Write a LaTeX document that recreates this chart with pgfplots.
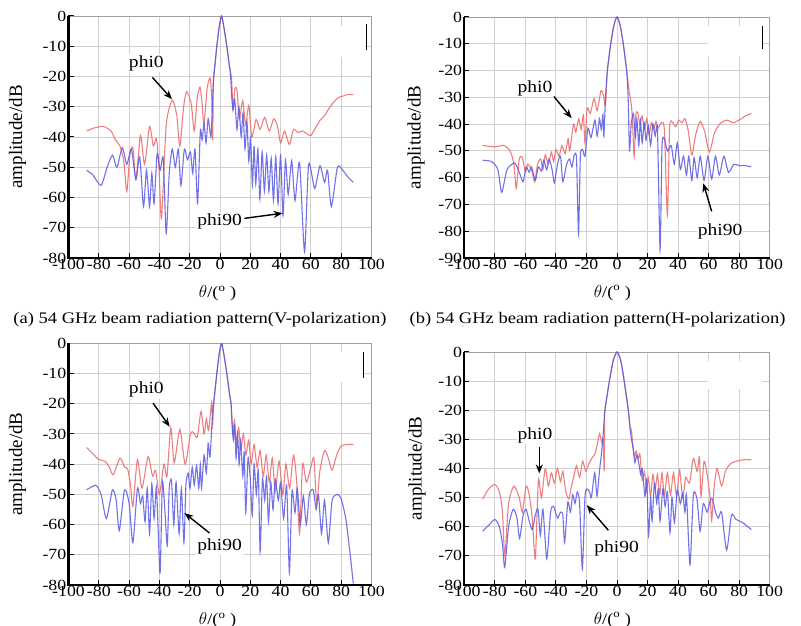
\documentclass[border=0pt]{standalone}
\usepackage{fontspec}
\setmainfont{Liberation Serif}[FakeStretch=1.15]
\newfontfamily\ylfont{Liberation Serif}
\usepackage{pgfplots}
\pgfplotsset{compat=1.18}
\usetikzlibrary{arrows.meta}

\definecolor{cRed}{RGB}{236,105,105}
\definecolor{cBlue}{RGB}{88,88,228}
\definecolor{cGrid}{RGB}{208,208,208}

\tikzset{
  lab/.style={fill=white, inner sep=1pt, font=\fontsize{17}{18}\selectfont},
  arr/.style={-{Stealth[length=9pt,width=7pt]}, line width=1.4pt},
}
\pgfplotsset{
  pat/.style={
    scale only axis, anchor=south west,
    xmin=-100, xmax=100, xtick={-100,-80,...,100},
    ymax=0, ytick distance=10,
    grid=major, major grid style={cGrid, line width=0.9pt},
    axis line style={gray!75, line width=0.8pt},
    tick align=inside, xtick pos=bottom, ytick pos=left,
    major tick length=5pt, tick style={black, line width=1pt},
    ticklabel style={font=\fontsize{15.5}{16}\selectfont},
    /pgf/number format/assume math mode=true,
    xticklabel style={inner sep=1pt},
    yticklabel style={inner sep=2pt},
    ylabel={amplitude/dB},
    ylabel style={font=\ylfont\fontsize{19}{20}\selectfont, anchor=center},
    xlabel={$\theta$/(\textsuperscript{o} )},
    xlabel style={font=\fontsize{16}{17}\selectfont, anchor=center},
    clip mode=individual,
    every axis plot/.append style={line width=1.1pt, smooth, tension=0.4, opacity=0.85},
  },
}

\begin{document}
\begin{tikzpicture}
\path[use as bounding box] (0,0) rectangle (801pt,626pt);

% (a)
\begin{axis}[pat, at={(68.5pt,368pt)}, width=303pt, height=242pt, ymin=-80,
  ylabel style={at={(axis description cs:-0.168,0.5)}},
  xlabel style={at={(axis description cs:0.492,-0.145)}}]
\addplot[cRed] coordinates {(-88,-38) (-83,-37) (-77,-36.5) (-72,-38) (-69,-41) (-66,-43) (-63.5,-48) (-61.5,-58) (-59.5,-46) (-57.5,-43.5) (-55.5,-54) (-52.5,-39.5) (-49.8,-49) (-46.5,-36.5) (-44,-43) (-42,-40.5) (-40.3,-50) (-38.6,-67) (-35.5,-36) (-31.5,-27.8) (-28.5,-33) (-26.5,-43) (-24,-30) (-22,-25) (-19,-29) (-17,-38) (-15,-27) (-13.2,-23.5) (-11.8,-29) (-10.6,-36) (-8.5,-24) (-6.5,-20.5) (-5.4,-28) (-4.8,-41) (-4.4,-22) (-3.5,-17) (-2.1,-10) (-0.5,-3.5) (1,0) (2.5,-3.5) (4.5,-10) (6.2,-16.5) (7.6,-20.5) (8.6,-31) (9.8,-24) (11.2,-24.5) (12.8,-34) (15,-28) (17,-36) (19,-29.5) (21,-40) (23.8,-34.2) (26.5,-37.5) (29.5,-33.5) (32.5,-38) (35.5,-34) (38,-36.5) (40,-42) (42.6,-38) (45.8,-42.5) (48.5,-37.5) (51.5,-38.5) (54.5,-38) (57.5,-39) (60,-39.5) (63,-37) (66,-34.5) (69,-33) (72,-30.5) (75,-28.5) (78,-27) (81,-26.5) (84,-26) (88,-26)};
\addplot[cBlue] coordinates {(-88,-51) (-84,-52.5) (-78.5,-56) (-74.5,-50) (-71,-46) (-68,-50) (-64.5,-43.5) (-61.5,-49) (-58.5,-44) (-55.5,-54) (-53,-46.5) (-50.5,-63) (-48.5,-51) (-46.5,-63) (-45,-52) (-43.5,-62) (-41.5,-45.5) (-39.5,-51) (-37.5,-47) (-35.5,-72) (-33.5,-52) (-31.5,-44) (-29.5,-50) (-27.5,-44) (-25.8,-56) (-23.5,-44) (-21.5,-47.5) (-19.5,-45) (-18,-52) (-16.5,-44) (-14.8,-62) (-13,-38) (-11.8,-41) (-10.5,-35.5) (-9.2,-42) (-7.8,-34) (-6,-40) (-5,-30) (-4.4,-22) (-3.5,-17) (-2.1,-10) (-0.5,-3.5) (1,0) (2.5,-3.5) (4.5,-10) (6.2,-16.5) (7,-20) (7.8,-27) (8.6,-31) (9.7,-27.5) (11.2,-37.5) (12.5,-30) (14,-40) (15.2,-32) (16.5,-44) (17.8,-35) (19,-48) (20.2,-40) (21.4,-56) (22.5,-43) (23.6,-55.5) (25,-44) (26.3,-60.5) (27.8,-45) (29.3,-58) (30.8,-46) (32.3,-58) (33.8,-47) (35.3,-61) (36.8,-46.5) (38.3,-62) (40,-46) (41.6,-66) (43.2,-47.5) (45,-59) (47.3,-47.8) (49.5,-61) (52.5,-48.4) (55.8,-78) (58.5,-49) (62.5,-57) (66,-49.5) (69,-55) (71,-51) (73.5,-63) (77.5,-50) (81,-51) (84,-53) (88,-55)};
\fill[white] (axis cs:60.9,-3.2) rectangle (axis cs:95.7,-13.7);
\draw[line width=1pt] (axis cs:96.4,-2.6) -- (axis cs:96.4,-11.2);
\node[lab] at (axis cs:-48.6,-15.6) {phi0};
\draw[arr] (axis cs:-44.6,-20.3) -- (axis cs:-31.7,-27.5);
\node[lab] at (axis cs:-0.3,-68) {phi90};
\draw[arr] (axis cs:16.1,-66.9) -- (axis cs:41.3,-65.2);
\draw[line width=2.2pt] (rel axis cs:0,1) -- (rel axis cs:0,0) -- (rel axis cs:1,0);
\end{axis}

% (b)
\begin{axis}[pat, at={(464.3pt,368pt)}, width=305.4pt, height=241pt, ymin=-90,
  ylabel style={at={(axis description cs:-0.158,0.5)}},
  xlabel style={at={(axis description cs:0.485,-0.145)}}]
\addplot[cRed] coordinates {(-88,-48) (-80,-48.5) (-74,-48) (-70,-50) (-67.5,-55) (-66,-64) (-64,-53) (-62,-52.5) (-60,-58) (-58.5,-55) (-56,-57) (-54,-61.5) (-52,-55) (-50,-53) (-48.5,-57) (-47,-51.5) (-45,-55) (-43,-50.5) (-41.5,-54) (-40,-49.5) (-38,-52) (-36,-48) (-34,-51) (-32,-45.5) (-31,-50) (-28.5,-40) (-27,-43) (-25,-38) (-23.5,-42) (-22,-36.5) (-21,-47) (-19.5,-34) (-17.5,-36) (-15,-30.5) (-13,-35) (-10.5,-27.5) (-8.8,-29.5) (-7.8,-33) (-7.2,-30) (-6.3,-20) (-4.1,-10) (-2,-3) (0,0) (2,-3) (4.1,-10) (6.3,-20) (8,-28) (9,-31) (10,-37) (11.2,-52) (12.3,-37) (13.5,-35.5) (15,-40) (16.5,-37) (18,-42) (19.5,-38) (21,-44) (22.5,-39.5) (24,-42) (25.5,-39) (27,-41.5) (29,-39.5) (31,-42) (33,-74) (34.5,-41) (36.5,-39.5) (38.5,-41) (40.5,-38.5) (42.5,-39.5) (44.5,-38) (46.5,-42) (49,-51.5) (51.5,-44) (54.5,-39) (57.5,-43) (60.5,-50.5) (64,-43) (68,-39.5) (72,-38.5) (76,-39.5) (80,-38.5) (84,-37) (88,-36)};
\addplot[cBlue] coordinates {(-88,-53.5) (-82,-54) (-78,-57) (-75.5,-65.5) (-72,-57) (-67,-54.5) (-64,-58) (-61.5,-61.5) (-59.5,-56) (-57.5,-58) (-56,-56) (-53.5,-61) (-51.5,-56) (-49.5,-57.5) (-48,-53.5) (-46,-57) (-44.5,-53) (-42.5,-57) (-41,-62) (-39,-55) (-37,-52) (-35.5,-61.5) (-33,-55) (-31,-53) (-29.5,-56) (-28,-51.5) (-26.5,-53) (-25.2,-81) (-24,-52) (-22.5,-49.5) (-21,-52) (-19,-41.5) (-17,-45) (-14.5,-38.5) (-13,-44.5) (-11.5,-38) (-10.3,-42) (-9.2,-36.5) (-8.6,-44.5) (-7.5,-30) (-6.3,-20) (-4.1,-10) (-2,-3) (0,0) (2,-3) (4.1,-10) (6.3,-20) (7.3,-30) (8.2,-50) (9.3,-40) (10.8,-36) (12,-45) (13,-38) (14.3,-48) (15.3,-38.5) (16.5,-47) (17.8,-39.5) (19,-46) (20.5,-40.5) (22,-48) (23.5,-40) (25,-44.5) (26.5,-42) (28.2,-87) (29.5,-48) (31,-45.5) (33,-50) (35.5,-48) (37.5,-55) (39.5,-47) (41.5,-57) (43.5,-52) (45.5,-59) (47,-52) (49,-61) (50.5,-52.5) (52.5,-60) (54.5,-52) (57,-61) (59.5,-52) (62,-60.5) (64.5,-52) (67,-59) (70,-52) (73,-58) (76.5,-55) (80,-55.5) (84,-55.5) (88,-56)};
\fill[white] (axis cs:59.8,-3.2) rectangle (axis cs:94.8,-14.4);
\draw[line width=1pt] (axis cs:95.2,-3.2) -- (axis cs:95.2,-11.9);
\node[lab] at (axis cs:-53.7,-26.6) {phi0};
\draw[arr] (axis cs:-41.3,-29.7) -- (axis cs:-29.7,-37.8);
\node[lab] at (axis cs:67.5,-80.1) {phi90};
\draw[arr] (axis cs:62,-72.6) -- (axis cs:56.5,-62.1);
\draw[line width=2.2pt] (rel axis cs:0,1) -- (rel axis cs:0,0) -- (rel axis cs:1,0);
\end{axis}

% (c)
\begin{axis}[pat, at={(68.5pt,41pt)}, width=303pt, height=241.7pt, ymin=-80,
  ylabel style={at={(axis description cs:-0.168,0.5)}},
  xlabel style={at={(axis description cs:0.492,-0.145)}}]
\addplot[cRed] coordinates {(-88,-34.5) (-84,-36.5) (-80,-38.5) (-76,-39) (-73,-41) (-70.5,-43.5) (-66,-38) (-63,-41) (-61,-41.5) (-59,-47) (-57.5,-54) (-54.5,-38.5) (-51.5,-48) (-47.5,-37.5) (-44.5,-44) (-42.5,-42) (-40,-50) (-37,-40) (-35,-44) (-32.5,-28) (-30.2,-39.5) (-26.5,-28.5) (-23,-40) (-19.5,-30) (-17.5,-29.5) (-15,-31) (-12.5,-22.5) (-10.5,-30) (-9,-25) (-7.5,-29) (-5.5,-19.5) (-4.8,-27) (-4.2,-20) (-2.1,-10) (-0.5,-3.5) (1,0) (2.5,-3.5) (4.5,-10) (6.2,-16.5) (7.3,-20) (8.5,-30) (9.5,-25.5) (10.8,-33) (12.3,-28) (13.7,-35) (15.5,-30) (17,-37) (19,-32) (20.5,-40) (22.5,-33.5) (24.5,-41) (26.5,-35.5) (28.5,-44) (30.5,-37) (32.5,-46) (34.5,-38) (36.5,-49) (39,-39) (41.5,-50) (43.5,-40) (46,-48) (48.5,-37) (50.5,-45) (52.5,-63) (54.5,-40) (57,-46) (60,-41) (62,-38) (63.8,-53) (66,-42) (69,-35.5) (71.5,-38) (74,-42) (77,-37) (80,-34) (84,-33.5) (88,-33.5)};
\addplot[cBlue] coordinates {(-88,-48.5) (-82,-47) (-78.5,-50) (-75,-58) (-71,-48.5) (-68.5,-52) (-66.5,-62) (-63,-48.5) (-60,-53) (-57.5,-66) (-54.5,-48) (-52.5,-53) (-51,-50.5) (-49.5,-59) (-48,-48) (-46.5,-63) (-45,-46.5) (-43.5,-58) (-42,-47.5) (-40.8,-62) (-39.5,-76) (-38,-46) (-36.3,-56) (-34.8,-67) (-33.5,-48) (-32,-45.5) (-30.5,-60) (-29,-46) (-27,-63) (-25.5,-48) (-23.8,-66) (-22.5,-47) (-21,-43) (-19.8,-48) (-18.3,-41) (-17,-47) (-15.5,-40.5) (-14,-48) (-13,-40) (-12.2,-48) (-10.5,-37) (-9,-43) (-7.8,-33) (-6.6,-37.5) (-5,-24) (-4.2,-20) (-2.1,-10) (-0.5,-3.5) (1,0) (2.5,-3.5) (4.5,-10) (6.2,-16.5) (7.3,-20) (8,-27) (8.8,-32) (9.7,-27) (10.6,-38) (11.6,-30) (12.6,-40) (13.6,-32) (15,-44) (16,-36) (17,-56) (18.5,-38) (20,-45) (21.3,-57) (22.5,-40) (24,-50) (25.3,-42) (26.5,-69) (28,-45) (29.5,-52) (30.7,-44) (32,-59) (33.5,-46) (35,-55) (36.5,-45) (38.5,-52) (40,-46) (42,-58) (44,-47) (45.8,-76) (47.5,-49) (49.5,-56) (51,-48) (53,-60) (55,-50.5) (57,-60) (59,-50) (61.5,-48.5) (63.5,-55) (65,-50) (67,-63) (69,-52) (71.5,-66) (74,-52) (77.5,-50) (80,-51.5) (83,-58) (85.5,-68) (88,-79.5)};
\fill[white] (axis cs:60,-2.8) rectangle (axis cs:94,-12.7);
\draw[line width=1pt] (axis cs:95,-2.8) -- (axis cs:95,-11.5);
\node[lab] at (axis cs:-48.6,-15.4) {phi0};
\draw[arr] (axis cs:-44.2,-19.8) -- (axis cs:-33.2,-27.6);
\node[lab] at (axis cs:-0.3,-67.2) {phi90};
\draw[arr] (axis cs:-6.9,-62.8) -- (axis cs:-23.4,-56.2);
\draw[line width=2.2pt] (rel axis cs:0,1) -- (rel axis cs:0,0) -- (rel axis cs:1,0);
\end{axis}

% (d)
\begin{axis}[pat, at={(464.3pt,41pt)}, width=305.4pt, height=233pt, ymin=-80,
  ylabel style={at={(axis description cs:-0.155,0.5)}},
  xlabel style={at={(axis description cs:0.485,-0.150)}}]
\addplot[cRed] coordinates {(-88,-50.5) (-84,-47) (-80,-45.5) (-77,-48) (-75,-55) (-73.5,-70) (-71,-52) (-67.5,-46) (-64,-50) (-62,-55) (-59.5,-46) (-57.5,-49) (-55.5,-57) (-53.5,-71) (-51.5,-44) (-49.5,-50) (-47,-40) (-45,-46) (-43,-41.5) (-41,-45) (-39,-40) (-37,-44.5) (-35.5,-41) (-33.5,-48) (-31.5,-50.5) (-30,-46.5) (-28,-42) (-26.5,-39) (-24.5,-43) (-22.5,-37.5) (-20.5,-41) (-18.5,-38.5) (-16.5,-36.5) (-14.5,-35) (-13,-32) (-11.4,-28) (-10,-31) (-9,-30) (-8.4,-41) (-8.1,-22) (-7.9,-20) (-5,-10) (-2.5,-3) (0,0) (2.5,-3) (4.7,-10) (7.4,-20) (8.5,-25.5) (9.5,-27) (10.5,-33) (11.5,-36) (12.5,-34) (14,-36.5) (15,-35) (16.5,-44) (18,-41) (19.3,-47.5) (20.5,-43) (22,-49.5) (23.5,-42) (25,-47) (26.5,-42) (28,-49) (29.5,-41.5) (31,-49.5) (33,-41.5) (35,-49) (37,-41.5) (39,-49.5) (41,-40.5) (43,-50) (45,-43) (47.5,-45) (50,-36.5) (52.5,-41) (54,-36) (55,-49.5) (57,-37.5) (59,-42) (61,-50) (62,-58) (63.5,-47) (65.5,-40) (68.5,-46) (71,-41) (74,-38.5) (78,-37.5) (83,-37) (88,-37)};
\addplot[cBlue] coordinates {(-88,-61.5) (-84,-59.5) (-80,-57.5) (-77,-60) (-75,-66) (-73.5,-74) (-71,-60) (-68,-54) (-65.5,-57) (-63.8,-64) (-61.5,-56) (-59.5,-54) (-57.5,-58) (-55.5,-61) (-53.5,-56) (-51.7,-54) (-50.2,-63) (-48.5,-54) (-46,-71) (-43.5,-55) (-41.5,-53) (-39,-57) (-37,-55) (-35.5,-56) (-34.3,-65.5) (-32.2,-51.5) (-30.5,-55) (-29,-49) (-27.5,-52) (-26,-48) (-24.5,-52) (-22.7,-74.5) (-21,-50) (-19.7,-47) (-18,-48) (-16.8,-50) (-14.6,-41.5) (-13.1,-49.5) (-11.5,-41) (-10,-34) (-9,-28) (-7.9,-20) (-5,-10) (-2.5,-3) (0,0) (2.5,-3) (4.7,-10) (7.4,-20) (8.5,-26) (9.5,-30) (10.7,-33.5) (11.7,-38) (12.9,-35.5) (14.2,-38) (15.5,-42) (16.5,-40) (18.3,-49.5) (19.5,-44) (20.7,-63) (22,-50) (23,-58) (24.5,-45) (26,-52) (27,-47) (28.2,-58) (30,-47) (31.5,-53) (33,-48) (34.7,-62) (36,-50) (37.6,-58.5) (39.5,-47.5) (41.5,-52) (43,-48.5) (44.5,-55) (45.5,-49) (47.8,-73) (50,-49) (52.4,-50.5) (54.4,-61.5) (56.5,-52) (59,-55) (61,-51) (62.5,-50.5) (64.5,-55) (66.4,-57) (68.5,-55) (71.8,-68) (75,-56) (78,-57.5) (82,-58.5) (88,-61)};
\fill[white] (axis cs:59.4,-3.1) rectangle (axis cs:94.8,-12.6);
\node[lab] at (axis cs:-53.7,-28.5) {phi0};
\draw[arr] (axis cs:-50.9,-32.5) -- (axis cs:-50.9,-41.7);
\node[lab] at (axis cs:-0.2,-67.5) {phi90};
\draw[arr] (axis cs:-5.7,-61.2) -- (axis cs:-19.8,-52.6);
\draw[line width=2.2pt] (rel axis cs:0,1) -- (rel axis cs:0,0) -- (rel axis cs:1,0);
\end{axis}

\node[font=\fontsize{16.1}{18}\selectfont] at (200pt,306.5pt) {(a) 54 GHz beam radiation pattern(V-polarization)};
\node[font=\fontsize{16.1}{18}\selectfont] at (597.5pt,306.5pt) {(b) 54 GHz beam radiation pattern(H-polarization)};
\end{tikzpicture}
\end{document}
